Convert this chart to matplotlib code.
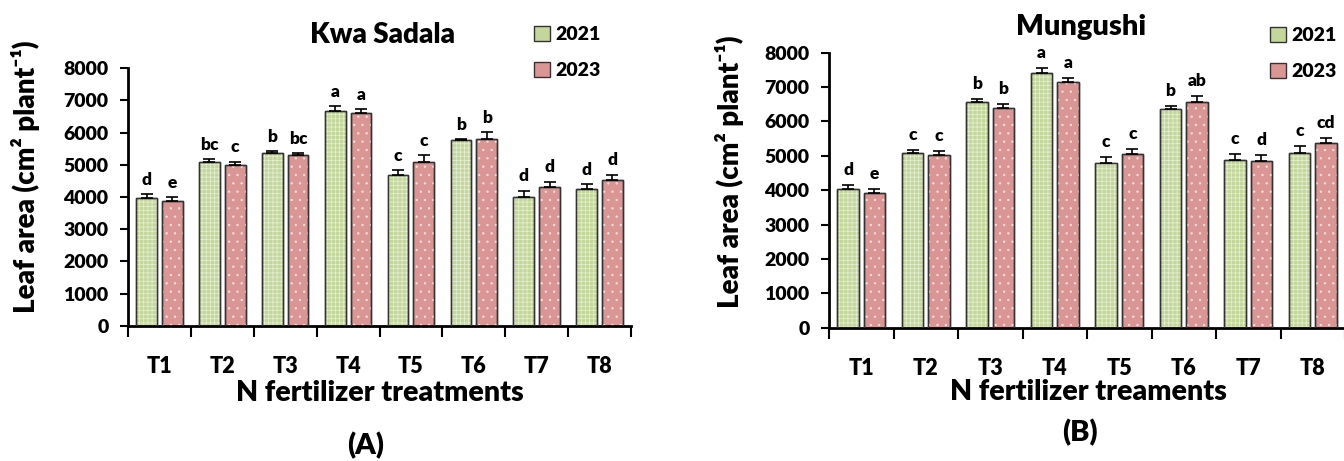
import numpy as np
import matplotlib
matplotlib.use('Agg')
import matplotlib.pyplot as plt
from matplotlib.patches import Patch

plt.rcParams['font.family'] = ['Lato', 'DejaVu Sans']
plt.rcParams['font.weight'] = 'heavy'
plt.rcParams['hatch.linewidth'] = 0.5

# === Data ===
treatments = ['T1', 'T2', 'T3', 'T4', 'T5', 'T6', 'T7', 'T8']

kwa_2021 = [3970, 5090, 5360, 6680, 4690, 5770, 4005, 4235]
kwa_2023 = [3890, 4980, 5290, 6600, 5095, 5810, 4305, 4535]
kwa_err_2021 = [110, 80, 70, 145, 135, 30, 185, 155]
kwa_err_2023 = [110, 110, 70, 125, 195, 195, 175, 155]
kwa_let_2021 = ['d', 'bc', 'b', 'a', 'c', 'b', 'd', 'd']
kwa_let_2023 = ['e', 'c', 'bc', 'a', 'c', 'b', 'd', 'd']

mun_2021 = [4040, 5095, 6565, 7420, 4785, 6360, 4890, 5095]
mun_2023 = [3930, 5025, 6390, 7140, 5065, 6575, 4850, 5385]
mun_err_2021 = [125, 80, 80, 145, 185, 80, 175, 185]
mun_err_2023 = [105, 105, 115, 135, 135, 175, 175, 135]
mun_let_2021 = ['d', 'c', 'b', 'a', 'c', 'b', 'c', 'c']
mun_let_2023 = ['e', 'c', 'b', 'a', 'c', 'ab', 'd', 'cd']

green = '#c4d79b'
pink = '#da9694'
edge = '#333333'

W, H = 1344, 461
fig = plt.figure(figsize=(W / 100, H / 100), dpi=100)


def draw_panel(rect, v21, v23, e21, e23, l21, l23):
    ax = fig.add_axes(rect)
    x = np.arange(len(treatments))
    w = 0.33
    off = 0.205
    for xs, vals, errs, lets, col, hat in [
        (x - off, v21, e21, l21, green, '++++'),
        (x + off, v23, e23, l23, pink, '..'),
    ]:
        ax.bar(xs, vals, width=w, color=col, edgecolor=edge, linewidth=1.0, zorder=2)
        ax.bar(xs, vals, width=w, color='none', edgecolor=(1, 1, 1, 0.6), hatch=hat,
               linewidth=0, zorder=2.5)
        ax.bar(xs, vals, width=w, color='none', edgecolor=edge, linewidth=1.0, zorder=3)
        ax.errorbar(xs, vals, yerr=[np.zeros(len(errs)), errs], fmt='none',
                    ecolor='black', elinewidth=1.2, capsize=4, capthick=1.2, zorder=4)
        for xi, v, e, t in zip(xs, vals, errs, lets):
            ax.text(xi, v + e + 200, t, ha='center', va='bottom', fontsize=12.5)
    ax.set_xlim(-0.5, len(treatments) - 0.5)
    ax.set_ylim(0, 8000)
    ax.set_yticks(range(0, 8001, 1000))
    ax.tick_params(axis='y', labelsize=14, width=1.5, length=6, pad=8)
    ax.set_xticks(np.arange(-0.5, len(treatments), 1.0))
    ax.set_xticklabels([])
    ax.set_xticks(x, minor=True)
    ax.set_xticklabels(treatments, minor=True)
    ax.tick_params(axis='x', which='major', width=1.5, length=8)
    ax.tick_params(axis='x', which='minor', length=0, labelsize=15.5, pad=22)
    for s in ['top', 'right']:
        ax.spines[s].set_visible(False)
    for s in ['left', 'bottom']:
        ax.spines[s].set_linewidth(2)
    return ax


axA = draw_panel([128 / W, 1 - 325.7 / H, 503 / W, (325.7 - 68.3) / H],
                 kwa_2021, kwa_2023, kwa_err_2021, kwa_err_2023, kwa_let_2021, kwa_let_2023)
axB = draw_panel([829 / W, 1 - 327.7 / H, 516 / W, (327.7 - 52.7) / H],
                 mun_2021, mun_2023, mun_err_2021, mun_err_2023, mun_let_2021, mun_let_2023)

# titles, labels
fig.text(383 / W, 1 - 35 / H, 'Kwa Sadala', ha='center', va='center', fontsize=20)
fig.text(1081 / W, 1 - 27 / H, 'Mungushi', ha='center', va='center', fontsize=21)

ylab = 'Leaf area (cm² plant⁻¹)'
fig.text(26 / W, 1 - 177 / H, ylab, rotation=90, ha='center', va='center', fontsize=20)
fig.text(730 / W, 1 - 172 / H, ylab, rotation=90, ha='center', va='center', fontsize=20)

fig.text(380 / W, 1 - 393 / H, 'N fertilizer treatments', ha='center', va='center', fontsize=20.5)
fig.text(1088 / W, 1 - 392 / H, 'N fertilizer treaments', ha='center', va='center', fontsize=20.5)

fig.text(366 / W, 1 - 446 / H, '(A)', ha='center', va='center', fontsize=21)
fig.text(1080 / W, 1 - 433 / H, '(B)', ha='center', va='center', fontsize=21)

# legends
handles = [Patch(facecolor=green, edgecolor=edge, label='2021'),
           Patch(facecolor=pink, edgecolor=edge, label='2023')]
for lx, ly in [(534 / W, 1 - 26 / H), (1270 / W, 1 - 27 / H)]:
    fig.legend(handles=handles, loc='upper left', bbox_to_anchor=(lx, ly),
               bbox_transform=fig.transFigure, frameon=False, fontsize=14,
               handlelength=0.8, handleheight=0.8, handletextpad=0.3,
               labelspacing=0.95, borderpad=0, borderaxespad=0)

fig.savefig('out.png', dpi=100)
